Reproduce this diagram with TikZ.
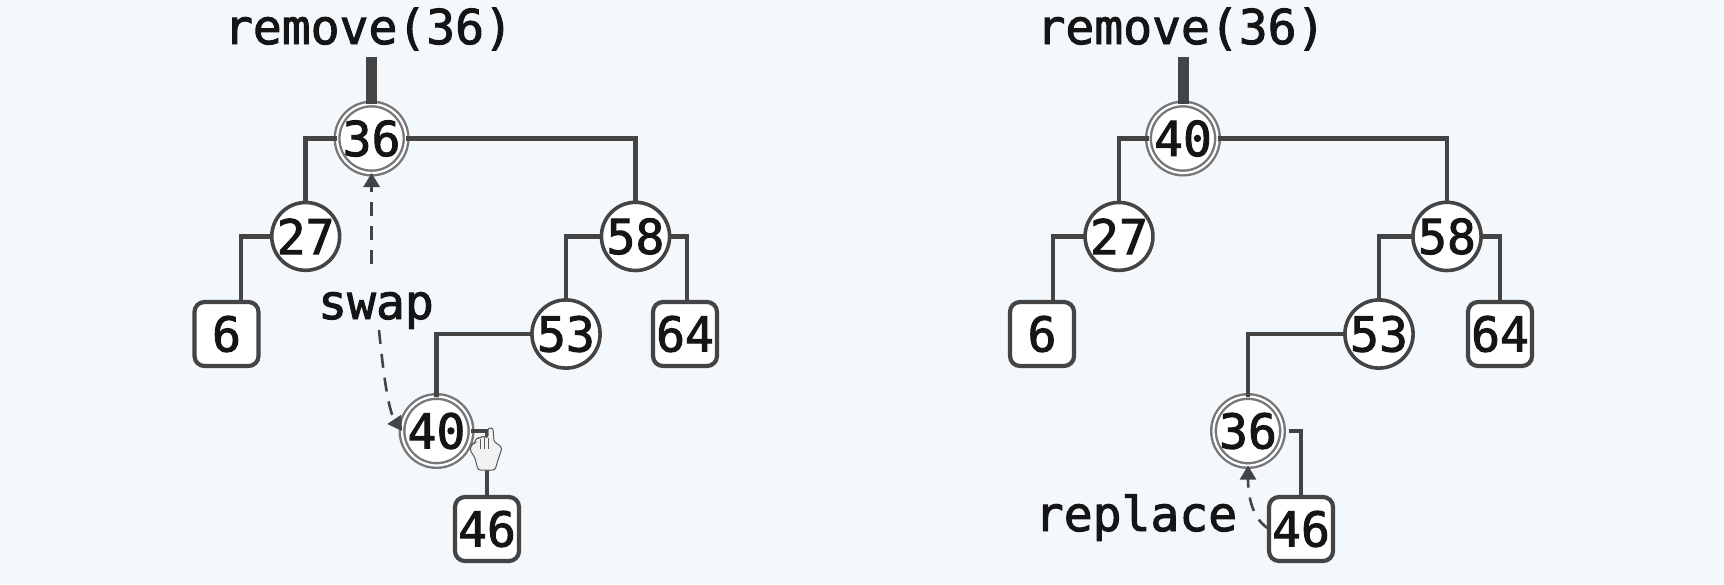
\documentclass[tikz,border=0pt]{standalone}
\usepackage{fontspec}
\setmonofont[FakeBold=2]{DejaVu Sans Mono}
\usetikzlibrary{arrows.meta}
\definecolor{bgc}{HTML}{F3F8FD}
\definecolor{edgec}{HTML}{444444}
\definecolor{ringc}{HTML}{777777}
\definecolor{txtc}{HTML}{151515}
\tikzset{
  x=0.5pt,y=-0.5pt,
  every node/.style={font=\fontsize{24}{27}\selectfont\ttfamily,text=txtc,inner sep=0pt,outer sep=0pt},
  plain/.style={circle,draw=edgec,line width=1.8pt,fill=white,minimum size=31pt},
  marked/.style={circle,draw=ringc,line width=1.2pt,double=white,double distance=1.1pt,fill=white,minimum size=34.5pt},
  leaf/.style={rectangle,rounded corners=5pt,draw=edgec,line width=2.1pt,fill=white,minimum size=32pt},
  link/.style={draw=edgec,line width=2.3pt},
  root/.style={draw=edgec,line width=5.5pt},
  move/.style={draw=edgec,line width=1.3pt,dash pattern=on 7pt off 5pt,-{Triangle[length=7pt,width=8pt]}},
  lbl/.style={anchor=base}
}
\begin{document}
\begin{tikzpicture}
\useasboundingbox[fill=bgc] (0,0) rectangle (1724,584);
% left tree
\node[marked] (a36) at (371.6,138.5) {36};
\node[plain] (a27) at (305.7,236.4) {27};
\node[plain] (a58) at (635.5,236.4) {58};
\node[leaf] (a6) at (226.5,334) {6};
\node[plain] (a53) at (566,334) {53};
\node[leaf] (a64) at (685,334) {64};
\node[marked] (a40) at (436.5,431) {40};
\node[leaf] (a46) at (487,529) {46};
\node[lbl] (atitle) at (368.5,44) {remove(36)};
\coordinate (atop) at (371.6,57);
\coordinate (aup) at (371.6,264);
\coordinate (adown) at (379,330);
\draw[root] (atop) -- (a36.north);
\draw[link] (a36.west) -| (a27.north);
\draw[link] (a36.east) -| (a58.north);
\draw[link] (a27.west) -| ([xshift=7.2pt]a6.north);
\draw[link] (a58.west) -| (a53.north);
\draw[link] (a58.east) -| ([xshift=1pt]a64.north);
\draw[link] (a53.west) -| (a40.north);
\draw[link] (a40.east) -| (a46.north);
\draw[move] (aup) -- (a36.south);
\draw[move] (adown) .. controls (383,370) and (388,410) .. (a40.west);
\node[lbl] (aswap) at (376,319) {swap};
% hand cursor
\draw[fill=white!90!gray,draw=gray!70!black,line width=0.5pt,rounded corners=1.2pt]
  (478,470) -- (475,458) -- (470,450) -- (472,444) -- (475,443) -- (476,438)
  -- (480,438) -- (483,436) -- (488,438) -- (488,428) -- (493,428) -- (494,442)
  -- (498,444) -- (502,448) -- (498,460) -- (495,470) -- cycle;
\draw[gray!70!black,line width=0.5pt] (480,439) -- (480,449) (484,437) -- (484,449) (488,438) -- (488,449);
% right tree
\node[marked] (b40) at (1183,138.5) {40};
\node[plain] (b27) at (1119,236.4) {27};
\node[plain] (b58) at (1447,236.4) {58};
\node[leaf] (b6) at (1042,334) {6};
\node[plain] (b53) at (1379,334) {53};
\node[leaf] (b64) at (1500,334) {64};
\node[marked] (b36) at (1248,431) {36};
\node[leaf] (b46) at (1301,529) {46};
\node[lbl] (btitle) at (1181,44) {remove(36)};
\coordinate (btop) at (1183,57);
\draw[root] (btop) -- (b40.north);
\draw[link] (b40.west) -| (b27.north);
\draw[link] (b40.east) -| (b58.north);
\draw[link] (b27.west) -| ([xshift=5.5pt]b6.north);
\draw[link] (b58.west) -| (b53.north);
\draw[link] (b58.east) -| (b64.north);
\draw[link] (b53.west) -| (b36.north);
\draw[link] ([xshift=3pt]b36.east) -| (b46.north);
\draw[move] (b46.west) .. controls (1254,520) and (1248,500) .. (b36.south);
\node[lbl] (breplace) at (1136,531) {replace};
\end{tikzpicture}
\end{document}
